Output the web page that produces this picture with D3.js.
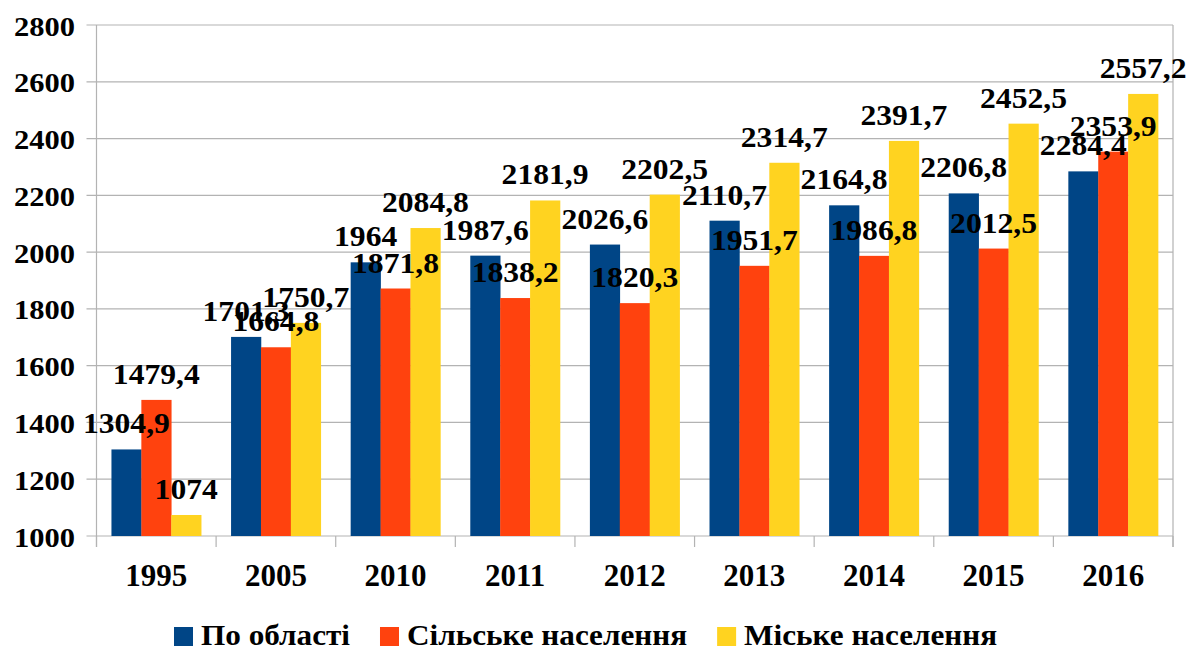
<!DOCTYPE html>
<html><head><meta charset="utf-8">
<script src="https://cdn.jsdelivr.net/npm/d3@7"></script>
<style>body{margin:0;background:#fff}svg{display:block}</style>
</head><body>
<script>
const categories = ["1995","2005","2010","2011","2012","2013","2014","2015","2016"];
const seriesNames = ["По області","Сільське населення","Міське населення"];
const oblast = [1304.9,1701.3,1964,1987.6,2026.6,2110.7,2164.8,2206.8,2284.4];
const rural  = [1479.4,1664.8,1871.8,1838.2,1820.3,1951.7,1986.8,2012.5,2353.9];
const urban  = [1074,1750.7,2084.8,2181.9,2202.5,2314.7,2391.7,2452.5,2557.2];
const yTicks = [1000,1200,1400,1600,1800,2000,2200,2400,2600,2800];
const colors = ["#004586","#ff420e","#ffd320"];
const seriesValues = [oblast, rural, urban];

(function(){
const W=1189,H=648;
const pL=96.5,pR=1173,pT=25,pB=536;
const FF="'Liberation Serif', Tinos, 'Times New Roman', 'DejaVu Serif', serif";
const svg=d3.select("body").append("svg").attr("width",W).attr("height",H)
  .attr("font-family",FF).attr("font-weight","bold");

const x=d3.scaleBand().domain(categories).range([pL,pR]).paddingInner(0.25).paddingOuter(0.125);
const x1=d3.scaleBand().domain([0,1,2]).range([0,x.bandwidth()]);
const y=d3.scaleLinear().domain([1000,2800]).range([pB,pT]);
const step=x.step();
const grid="#b3b3b3";

svg.append("g").selectAll("line").data(yTicks).join("line")
  .attr("x1",pL-10).attr("x2",pR).attr("y1",d=>y(d)).attr("y2",d=>y(d))
  .attr("stroke",grid).attr("stroke-width",1.2);
[pL,pR].forEach(xx=>svg.append("line").attr("x1",xx).attr("x2",xx).attr("y1",pT).attr("y2",pB+11).attr("stroke",grid).attr("stroke-width",1.2));
const bounds=d3.range(categories.length+1).map(i=>pL+i*step);
svg.append("g").selectAll("line").data(bounds).join("line")
  .attr("x1",d=>d).attr("x2",d=>d).attr("y1",pB).attr("y2",pB+11)
  .attr("stroke",grid).attr("stroke-width",1.2);

svg.append("g").selectAll("text").data(yTicks).join("text")
  .attr("text-anchor","end").attr("font-size",28)
  .attr("transform",d=>`translate(75,${y(d)+10.5}) scale(1.09,1)`)
  .text(d=>d);

svg.append("g").selectAll("text").data(categories).join("text")
  .attr("text-anchor","middle").attr("font-size",31)
  .attr("x",d=>x(d)+x.bandwidth()/2).attr("y",586)
  .text(d=>d);

const barData=[];
seriesValues.forEach((vals,s)=>vals.forEach((v,i)=>barData.push({s,cat:categories[i],v})));
svg.append("g").selectAll("rect").data(barData).join("rect")
  .attr("x",d=>x(d.cat)+x1(d.s)).attr("width",x1.bandwidth()+0.3)
  .attr("y",d=>y(d.v)).attr("height",d=>pB-y(d.v))
  .attr("fill",d=>colors[d.s]);

const fmt=v=>String(v).replace(".",",");
svg.append("g").selectAll("text").data(barData).join("text")
  .attr("text-anchor","middle").attr("font-size",29)
  .attr("transform",d=>`translate(${x(d.cat)+x1(d.s)+x1.bandwidth()/2},${y(d.v)-16}) scale(1.09,1)`)
  .text(d=>fmt(d.v));

const lg=svg.append("g");
let lx=174;
const sx=1.04;
seriesNames.forEach((n,i)=>{
  lg.append("rect").attr("x",lx).attr("y",627).attr("width",19).attr("height",19).attr("fill",colors[i]);
  const t=lg.append("text").attr("transform",`translate(${lx+27},645) scale(${sx},1)`).attr("font-size",30).text(n);
  lx+=27+t.node().getComputedTextLength()*sx+30;
});
})();
</script>
</body></html>
